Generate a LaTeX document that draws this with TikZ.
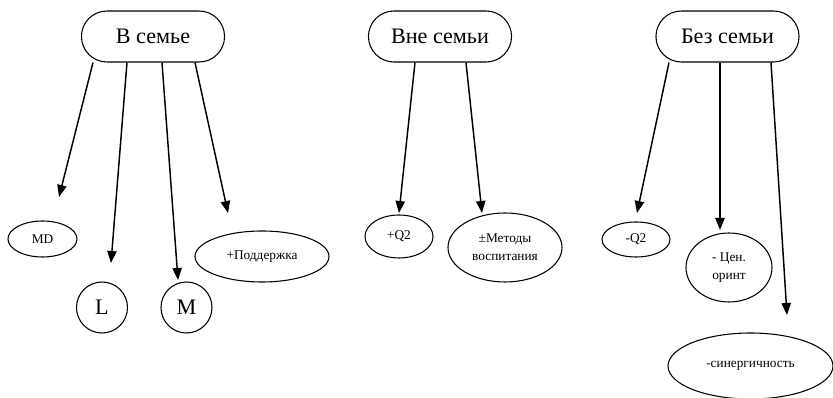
\documentclass[tikz,border=0pt]{standalone}
\usepackage{fontspec}
\setmainfont{Liberation Serif}
\usetikzlibrary{arrows.meta,shapes.misc,shapes.geometric,positioning,calc}
\newcommand{\pxu}{0.75pt}
\newcommand{\bigtxt}{\fontsize{16.6}{19}\selectfont}
\newcommand{\smalltxt}{\fontsize{10}{13.5}\selectfont}

\begin{document}
\begin{tikzpicture}
[x=\pxu,y=-\pxu,
edge/.style={black,-{Triangle[length=9pt,width=7pt]},line width=1.1pt},
group/.style={draw=black,rounded rectangle,line width=.8pt,minimum width=152*\pxu,minimum height=51*\pxu,font=\bigtxt},
oval/.style={draw=black,ellipse,line width=.8pt,inner sep=0pt,align=center,font=\smalltxt},
ring/.style={draw=black,circle,line width=.8pt,minimum size=51*\pxu,inner sep=0pt,font=\bigtxt}]
\useasboundingbox (0,0) rectangle (833,398);
%%
\node[group] (sem) at (153,36.5) {В семье};
\node[group] (vne) at (440,36.5) {Вне семьи};
\node[group] (bez) at (727.5,36.5) {Без семьи};
%%
\node[oval,minimum width=69*\pxu,minimum height=36*\pxu] (md) at (42.5,239) {MD};
\node[ring] (l) at (102,307.5) {L};
\node[ring] (m) at (186.5,307.5) {M};
\node[oval,minimum width=134*\pxu,minimum height=51*\pxu] (pod) at (262,256.5) {+Поддержка};
%%
\node[oval,minimum width=68*\pxu,minimum height=43*\pxu] (qp) at (399,236.5) {+Q2};
\node[oval,minimum width=114*\pxu,minimum height=69*\pxu] (met) at (505,247.5) {±Методы\\воспитания};
%%
\node[oval,minimum width=68*\pxu,minimum height=35*\pxu] (qm) at (636,239.5) {-Q2};
\node[oval,minimum width=86*\pxu,minimum height=69*\pxu] (cen) at (729,267.5) {- Цен.\\оринт};
\node[oval,minimum width=165*\pxu,minimum height=66*\pxu] (sin) at (750.5,366) {-синергичность};
%%
\coordinate (tmd) at (59,197);
\coordinate (tl) at (111,263);
\coordinate (tm) at (178,280);
\coordinate (tpod) at (228,213);
\coordinate (tqp) at (399,213);
\coordinate (tmet) at (482,213);
\coordinate (tqm) at (637,213);
\coordinate (tcen) at (720,230);
\coordinate (tsin) at (787,315);
%%
\draw[edge] ($(sem.south)+(-60,0)$) -- (tmd);
\draw[edge] ($(sem.south)+(-26,0)$) -- (tl);
\draw[edge] ($(sem.south)+(9,0)$) -- (tm);
\draw[edge] ($(sem.south)+(42,0)$) -- (tpod);
\draw[edge] ($(vne.south)+(-25,0)$) -- (tqp);
\draw[edge] ($(vne.south)+(26,0)$) -- (tmet);
\draw[edge] ($(bez.south)+(-58.5,0)$) -- (tqm);
\draw[edge] ($(bez.south)+(-7.5,0)$) -- (tcen);
\draw[edge] ($(bez.south)+(43.5,0)$) -- (tsin);
\end{tikzpicture}
\end{document}
